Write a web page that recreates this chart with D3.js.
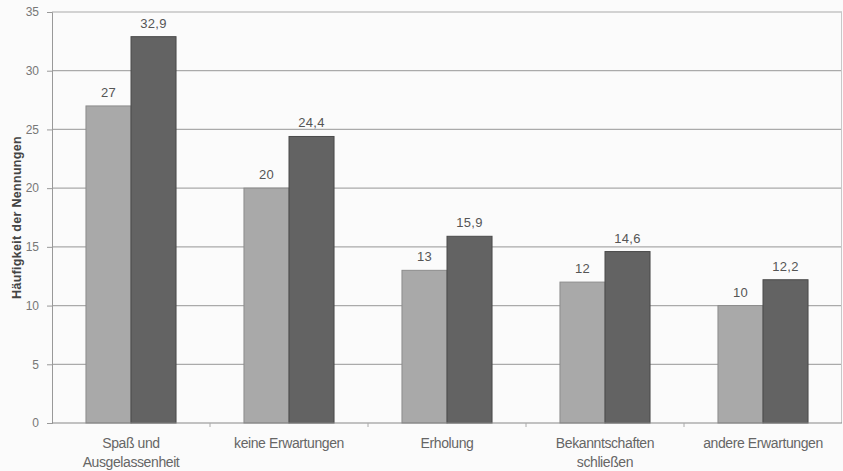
<!DOCTYPE html>
<html>
<head>
<meta charset="utf-8">
<script src="https://cdn.jsdelivr.net/npm/d3@7"></script>
<style>
  html, body { margin: 0; padding: 0; background: #fbfbfb; }
  svg { display: block; font-family: "Liberation Sans", Arial, sans-serif; }
</style>
</head>
<body>
<svg id="chart" width="843" height="471"></svg>
<script>
// Erwartungen an den Urlaub – Häufigkeit der Nennungen
const categories = [
  ["Spaß und", "Ausgelassenheit"],
  ["keine Erwartungen"],
  ["Erholung"],
  ["Bekanntschaften", "schließen"],
  ["andere Erwartungen"]
];
const seriesA = [27, 20, 13, 12, 10];
const seriesB = [32.9, 24.4, 15.9, 14.6, 12.2];
const yTicks = [0, 5, 10, 15, 20, 25, 30, 35];
const yTitle = "Häufigkeit der Nennungen";

const svg = d3.select("#chart");
const margin = { left: 52, right: 1, top: 12, bottom: 48 };
const W = 843, H = 471;

const x = d3.scaleBand()
  .domain(d3.range(categories.length))
  .range([margin.left, W - margin.right])
  .paddingInner(0.43)
  .paddingOuter(0.215);

const xs = d3.scaleBand()
  .domain(["a", "b"])
  .range([0, x.bandwidth()]);

const y = d3.scaleLinear()
  .domain([0, 35])
  .range([H - margin.bottom, margin.top]);

// gridlines
svg.append("g")
  .selectAll("line")
  .data(yTicks.filter(d => d > 0))
  .join("line")
  .attr("x1", margin.left)
  .attr("x2", W - margin.right)
  .attr("y1", d => y(d))
  .attr("y2", d => y(d))
  .attr("stroke", "#aaaaaa")
  .attr("stroke-width", 1.2);

// right frame edge
svg.append("line")
  .attr("x1", W - margin.right - 0.5).attr("x2", W - margin.right - 0.5)
  .attr("y1", y(35)).attr("y2", y(0))
  .attr("stroke", "#c8c8c8");

// y axis
const yAxis = d3.axisLeft(y).tickValues(yTicks).tickSize(5).tickPadding(8).tickFormat(d3.format("d"));
const gy = svg.append("g")
  .attr("transform", `translate(${margin.left},0)`)
  .call(yAxis);
gy.select(".domain").attr("stroke", "#999");
gy.selectAll(".tick line").attr("stroke", "#999");
gy.selectAll("text").attr("fill", "#777").attr("font-size", 12);

// bars
const groups = svg.append("g")
  .selectAll("g")
  .data(categories.map((c, i) => ({ i, a: seriesA[i], b: seriesB[i] })))
  .join("g")
  .attr("transform", d => `translate(${x(d.i)},0)`);

groups.selectAll("rect")
  .data(d => [{ k: "a", v: d.a }, { k: "b", v: d.b }])
  .join("rect")
  .attr("x", d => xs(d.k))
  .attr("y", d => y(d.v))
  .attr("width", xs.bandwidth())
  .attr("height", d => y(0) - y(d.v))
  .attr("fill", d => d.k === "a" ? "#a9a9a9" : "#636363")
  .attr("stroke", d => d.k === "a" ? "#8c8c8c" : "#4a4a4a")
  .attr("stroke-width", 1);

// value labels
groups.selectAll("text.val")
  .data(d => [{ k: "a", v: d.a }, { k: "b", v: d.b }])
  .join("text")
  .attr("class", "val")
  .attr("x", d => xs(d.k) + xs.bandwidth() / 2)
  .attr("y", d => y(d.v) - 9)
  .attr("text-anchor", "middle")
  .attr("font-size", 13)
  .attr("letter-spacing", 0.3)
  .attr("fill", "#555")
  .text(d => d3.format(".1~f")(d.v).replace(".", ","));

// x baseline
svg.append("line")
  .attr("x1", margin.left).attr("x2", W - margin.right)
  .attr("y1", y(0)).attr("y2", y(0))
  .attr("stroke", "#888").attr("stroke-width", 1.2);

// category boundary ticks
const step = x.step();
svg.append("g")
  .selectAll("line")
  .data(d3.range(1, categories.length))
  .join("line")
  .attr("x1", i => x(i) - step * x.paddingInner() / 2)
  .attr("x2", i => x(i) - step * x.paddingInner() / 2)
  .attr("y1", y(0))
  .attr("y2", y(0) + 4)
  .attr("stroke", "#aaa");

// category labels
const cat = svg.append("g")
  .selectAll("text")
  .data(categories.map((c, i) => ({ i, lines: c })))
  .join("text")
  .attr("x", d => x(d.i) + x.bandwidth() / 2)
  .attr("y", H - margin.bottom + 25)
  .attr("text-anchor", "middle")
  .attr("font-size", 14)
  .attr("letter-spacing", -0.4)
  .attr("fill", "#666");
cat.selectAll("tspan")
  .data(d => d.lines.map((l, j) => ({ l, j, cx: x(d.i) + x.bandwidth() / 2 })))
  .join("tspan")
  .attr("x", d => d.cx)
  .attr("dy", d => d.j === 0 ? 0 : 19)
  .text(d => d.l);

// y axis title
svg.append("text")
  .attr("transform", `translate(21,${y(17.5)}) rotate(-90)`)
  .attr("text-anchor", "middle")
  .attr("font-size", 12.5)
  .attr("letter-spacing", 0.3)
  .attr("font-weight", "bold")
  .attr("fill", "#444")
  .text(yTitle);
</script>
</body>
</html>
